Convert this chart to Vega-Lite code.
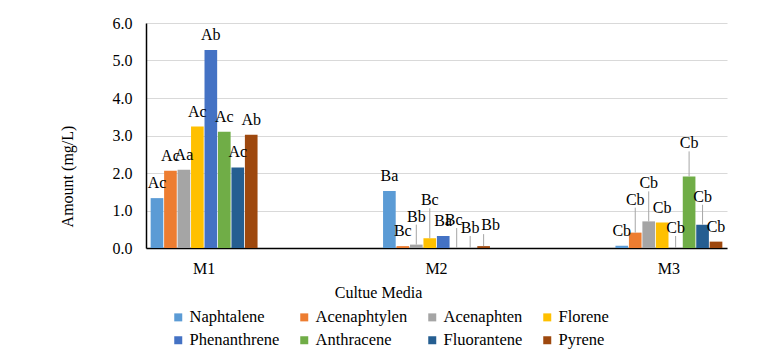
{
  "$schema": "https://vega.github.io/schema/vega-lite/v6.json",
  "width": 581,
  "height": 225,
  "autosize": {"type": "none"},
  "padding": {"left": 146, "top": 23, "right": 40, "bottom": 106},
  "background": "white",
  "config": {
    "font": "'Liberation Serif', 'Times New Roman', Times, serif",
    "view": {"stroke": null},
    "axis": {"labelFont": "'Liberation Serif', 'Times New Roman', Times, serif", "titleFont": "'Liberation Serif', 'Times New Roman', Times, serif", "labelColor": "#000", "titleColor": "#000", "titleFontWeight": "normal"},
    "legend": {"labelFont": "'Liberation Serif', 'Times New Roman', Times, serif"},
    "text": {"font": "'Liberation Serif', 'Times New Roman', Times, serif"}
  },
  "data": {
    "values": [
      {"media": "M1", "compound": "Naphtalene", "amount": 1.33, "label": "Ac"},
      {"media": "M1", "compound": "Acenaphtylen", "amount": 2.06, "label": "Ac"},
      {"media": "M1", "compound": "Acenaphten", "amount": 2.09, "label": "Aa"},
      {"media": "M1", "compound": "Florene", "amount": 3.24, "label": "Ac"},
      {"media": "M1", "compound": "Phenanthrene", "amount": 5.28, "label": "Ab"},
      {"media": "M1", "compound": "Anthracene", "amount": 3.1, "label": "Ac"},
      {"media": "M1", "compound": "Fluorantene", "amount": 2.15, "label": "Ac"},
      {"media": "M1", "compound": "Pyrene", "amount": 3.02, "label": "Ab"},
      {"media": "M2", "compound": "Naphtalene", "amount": 1.52, "label": "Ba"},
      {"media": "M2", "compound": "Acenaphtylen", "amount": 0.05, "label": "Bc"},
      {"media": "M2", "compound": "Acenaphten", "amount": 0.09, "label": "Bb"},
      {"media": "M2", "compound": "Florene", "amount": 0.26, "label": "Bc"},
      {"media": "M2", "compound": "Phenanthrene", "amount": 0.32, "label": "Ba"},
      {"media": "M2", "compound": "Anthracene", "amount": 0.0, "label": "Bc"},
      {"media": "M2", "compound": "Fluorantene", "amount": 0.0, "label": "Bb"},
      {"media": "M2", "compound": "Pyrene", "amount": 0.05, "label": "Bb"},
      {"media": "M3", "compound": "Naphtalene", "amount": 0.06, "label": "Cb"},
      {"media": "M3", "compound": "Acenaphtylen", "amount": 0.41, "label": "Cb"},
      {"media": "M3", "compound": "Acenaphten", "amount": 0.71, "label": "Cb"},
      {"media": "M3", "compound": "Florene", "amount": 0.68, "label": "Cb"},
      {"media": "M3", "compound": "Phenanthrene", "amount": 0.0, "label": "Cb"},
      {"media": "M3", "compound": "Anthracene", "amount": 1.91, "label": "Cb"},
      {"media": "M3", "compound": "Fluorantene", "amount": 0.62, "label": "Cb"},
      {"media": "M3", "compound": "Pyrene", "amount": 0.17, "label": "Cb"}
    ]
  },
  "encoding": {
    "x": {
      "field": "media", "type": "nominal",
      "scale": {"paddingInner": 0.54, "paddingOuter": 0.02},
      "axis": {"title": "Cultue Media", "labelAngle": 0, "labelFontSize": 16, "titleFontSize": 16, "ticks": false, "domainColor": "#000", "domainWidth": 1.5, "labelPadding": 12, "titleX": 232, "titleY": 44, "titleBaseline": "middle", "titleAnchor": "middle", "titleAlign": "center"}
    },
    "xOffset": {
      "field": "compound", "type": "nominal",
      "sort": ["Naphtalene", "Acenaphtylen", "Acenaphten", "Florene", "Phenanthrene", "Anthracene", "Fluorantene", "Pyrene"],
      "scale": {"paddingInner": 0.06, "paddingOuter": 0}
    },
    "y": {
      "field": "amount", "type": "quantitative",
      "scale": {"domain": [0, 6], "nice": false},
      "axis": {"title": "Amount (mg/L)", "values": [0, 1, 2, 3, 4, 5, 6], "labelOverlap": false, "format": ".1f", "labelFontSize": 16, "titleFontSize": 16, "ticks": false, "domain": true, "domainColor": "#000", "domainWidth": 1.5, "gridColor": "#d9d9d9", "gridWidth": 1.2, "labelPadding": 14, "titleAngle": -90, "titleX": -79, "titleY": 153, "titleBaseline": "middle", "titleAlign": "center", "titleAnchor": "middle"}
    }
  },
  "layer": [
    {
      "mark": {"type": "bar"},
      "encoding": {
        "color": {
          "field": "compound", "type": "nominal",
          "sort": ["Naphtalene", "Acenaphtylen", "Acenaphten", "Florene", "Phenanthrene", "Anthracene", "Fluorantene", "Pyrene"],
          "scale": {
            "domain": ["Naphtalene", "Acenaphtylen", "Acenaphten", "Florene", "Phenanthrene", "Anthracene", "Fluorantene", "Pyrene"],
            "range": ["#5B9BD5", "#ED7D31", "#A5A5A5", "#FFC000", "#4472C4", "#70AD47", "#255E91", "#9E480E"]
          },
          "legend": {
            "title": null, "orient": "none", "legendX": 24, "legendY": 286, "direction": "horizontal", "columns": 4,
            "symbolType": "square", "symbolSize": 64, "symbolStrokeWidth": 0, "labelFontSize": 16.5, "labelColor": "#000",
            "columnPadding": 16, "rowPadding": 6, "gridAlign": "each", "labelOffset": 3
          }
        }
      }
    },
    {
      "transform": [{"filter": "indexof(['M2|Acenaphten','M2|Florene','M2|Anthracene','M2|Fluorantene','M2|Pyrene','M3|Acenaphtylen','M3|Acenaphten','M3|Phenanthrene','M3|Anthracene','M3|Fluorantene'], datum.media + '|' + datum.compound) < 0"}],
      "mark": {"type": "text", "baseline": "middle", "dy": -15, "fontSize": 16, "color": "#000"},
      "encoding": {"text": {"field": "label"}}
    },
    {
      "transform": [{"filter": "indexof(['M2|Fluorantene','M3|Phenanthrene'], datum.media + '|' + datum.compound) >= 0"}],
      "mark": {"type": "text", "baseline": "middle", "dy": -20, "dx": 0, "fontSize": 16, "color": "#000"},
      "encoding": {"text": {"field": "label"}}
    },
    {
      "transform": [{"filter": "indexof(['M2|Pyrene'], datum.media + '|' + datum.compound) >= 0"}],
      "mark": {"type": "text", "baseline": "middle", "dy": -21, "dx": 7, "fontSize": 16, "color": "#000"},
      "encoding": {"text": {"field": "label"}}
    },
    {
      "transform": [{"filter": "indexof(['M2|Fluorantene','M2|Pyrene','M3|Phenanthrene'], datum.media + '|' + datum.compound) >= 0"}],
      "mark": {"type": "rule", "color": "#a6a6a6", "strokeWidth": 1, "y2Offset": -12},
      "encoding": {"y2": {"field": "amount"}}
    },
    {
      "transform": [{"filter": "indexof(['M2|Acenaphten','M3|Fluorantene'], datum.media + '|' + datum.compound) >= 0"}],
      "mark": {"type": "text", "baseline": "middle", "dy": -28, "fontSize": 16, "color": "#000"},
      "encoding": {"text": {"field": "label"}}
    },
    {
      "transform": [{"filter": "indexof(['M2|Anthracene'], datum.media + '|' + datum.compound) >= 0"}],
      "mark": {"type": "text", "baseline": "middle", "dy": -28, "dx": -3, "fontSize": 16, "color": "#000"},
      "encoding": {"text": {"field": "label"}}
    },
    {
      "transform": [{"filter": "indexof(['M2|Acenaphten','M2|Anthracene','M3|Fluorantene'], datum.media + '|' + datum.compound) >= 0"}],
      "mark": {"type": "rule", "color": "#a6a6a6", "strokeWidth": 1, "y2Offset": -20},
      "encoding": {"y2": {"field": "amount"}}
    },
    {
      "transform": [{"filter": "indexof(['M3|Acenaphtylen','M3|Anthracene'], datum.media + '|' + datum.compound) >= 0"}],
      "mark": {"type": "text", "baseline": "middle", "dy": -33, "fontSize": 16, "color": "#000"},
      "encoding": {"text": {"field": "label"}}
    },
    {
      "transform": [{"filter": "indexof(['M3|Acenaphtylen','M3|Anthracene'], datum.media + '|' + datum.compound) >= 0"}],
      "mark": {"type": "rule", "color": "#a6a6a6", "strokeWidth": 1, "y2Offset": -25},
      "encoding": {"y2": {"field": "amount"}}
    },
    {
      "transform": [{"filter": "indexof(['M2|Florene','M3|Acenaphten'], datum.media + '|' + datum.compound) >= 0"}],
      "mark": {"type": "text", "baseline": "middle", "dy": -38, "fontSize": 16, "color": "#000"},
      "encoding": {"text": {"field": "label"}}
    },
    {
      "transform": [{"filter": "indexof(['M2|Florene','M3|Acenaphten'], datum.media + '|' + datum.compound) >= 0"}],
      "mark": {"type": "rule", "color": "#a6a6a6", "strokeWidth": 1, "y2Offset": -30},
      "encoding": {"y2": {"field": "amount"}}
    }
  ]
}
